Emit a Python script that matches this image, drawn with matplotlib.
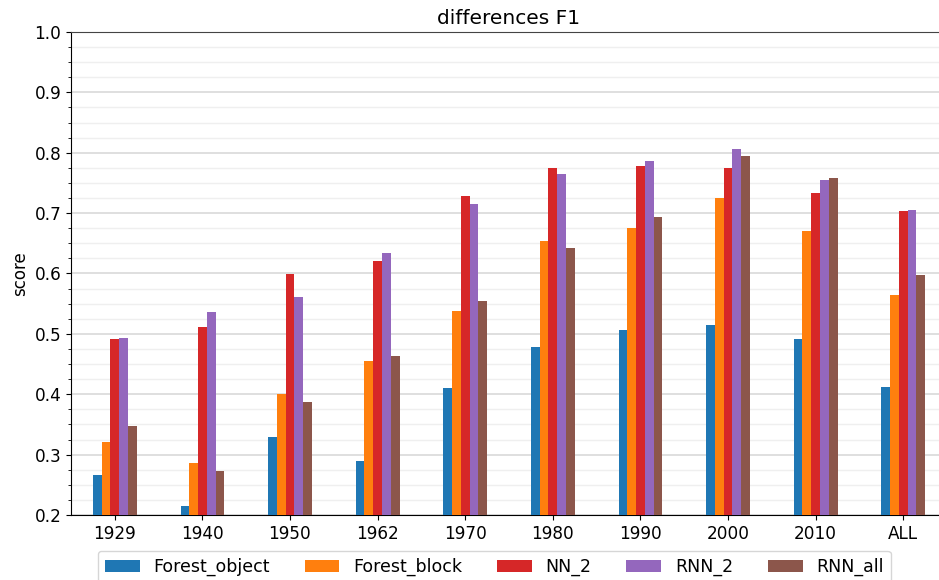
import numpy as np
import matplotlib
matplotlib.use("Agg")
import matplotlib.pyplot as plt
from matplotlib.ticker import MultipleLocator

categories = ["1929", "1940", "1950", "1962", "1970", "1980", "1990", "2000", "2010", "ALL"]
series_names = ["Forest_object", "Forest_block", "NN_2", "RNN_2", "RNN_all"]

forest_object = [0.266, 0.215, 0.329, 0.289, 0.410, 0.478, 0.506, 0.515, 0.491, 0.412]
forest_block = [0.321, 0.286, 0.400, 0.455, 0.538, 0.654, 0.675, 0.725, 0.670, 0.564]
nn_2 = [0.491, 0.511, 0.599, 0.621, 0.728, 0.775, 0.778, 0.775, 0.733, 0.703]
rnn_2 = [0.493, 0.536, 0.561, 0.634, 0.715, 0.765, 0.786, 0.806, 0.755, 0.705]
rnn_all = [0.347, 0.273, 0.387, 0.463, 0.554, 0.642, 0.694, 0.795, 0.758, 0.598]

series = [forest_object, forest_block, nn_2, rnn_2, rnn_all]
colors = ["#1f77b4", "#ff7f0e", "#d62728", "#9467bd", "#8c564b"]

fig = plt.figure(figsize=(9.39, 5.8), dpi=100)
ax = fig.add_axes([71 / 939, 65 / 580, 876 / 939, 483 / 580])

x = np.arange(len(categories))
width = 0.1
for i, (name, vals, c) in enumerate(zip(series_names, series, colors)):
    ax.bar(x + (i - 2) * width, vals, width, color=c, label=name, zorder=3)

ax.set_xlim(-0.5, len(categories) - 0.5)
ax.set_ylim(0.2, 1.0)
ax.set_xticks(x)
ax.set_xticklabels(categories, fontsize=12.2)
ax.yaxis.set_major_locator(MultipleLocator(0.1))
ax.yaxis.set_minor_locator(MultipleLocator(0.025))
ax.tick_params(axis="y", labelsize=12.2)
ax.grid(axis="y", which="major", color="#d9d9d9", linewidth=1.2, zorder=0)
ax.grid(axis="y", which="minor", color="#efefef", linewidth=1.0, zorder=0)
ax.set_ylabel("score", fontsize=12)
ax.set_title("differences F1", fontsize=14.5)

for side in ["top", "right"]:
    ax.spines[side].set_color("#444444")

ax.legend(loc="upper center", bbox_to_anchor=(0.4834, -0.056), ncol=5,
          fontsize=12.5, handlelength=2.0, columnspacing=2.0, fancybox=True)

fig.savefig("out.png", dpi=100)
